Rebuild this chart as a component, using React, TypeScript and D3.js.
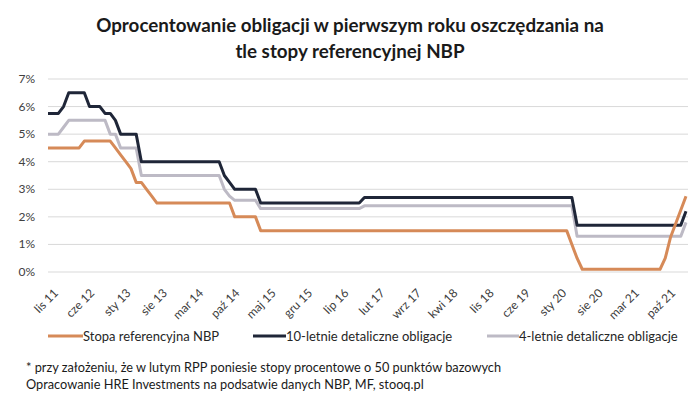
import React from 'react';
import * as d3 from 'd3';

// monthly values, lis 2011 .. lut 2022
const stopaRef = [
  4.5, 4.5, 4.5, 4.5, 4.5, 4.5, 4.5, 4.75, 4.75, 4.75, 4.75, 4.75,
  4.75, 4.5, 4.25, 4.0, 3.75, 3.25, 3.25, 3.0, 2.75, 2.5, 2.5, 2.5,
  2.5, 2.5, 2.5, 2.5, 2.5, 2.5, 2.5, 2.5, 2.5, 2.5, 2.5, 2.5,
  2.0, 2.0, 2.0, 2.0, 2.0, 1.5, 1.5, 1.5, 1.5, 1.5, 1.5, 1.5,
  1.5, 1.5, 1.5, 1.5, 1.5, 1.5, 1.5, 1.5, 1.5, 1.5, 1.5, 1.5,
  1.5, 1.5, 1.5, 1.5, 1.5, 1.5, 1.5, 1.5, 1.5, 1.5, 1.5, 1.5,
  1.5, 1.5, 1.5, 1.5, 1.5, 1.5, 1.5, 1.5, 1.5, 1.5, 1.5, 1.5,
  1.5, 1.5, 1.5, 1.5, 1.5, 1.5, 1.5, 1.5, 1.5, 1.5, 1.5, 1.5,
  1.5, 1.5, 1.5, 1.5, 1.5, 1.0, 0.5, 0.1, 0.1, 0.1, 0.1, 0.1,
  0.1, 0.1, 0.1, 0.1, 0.1, 0.1, 0.1, 0.1, 0.1, 0.1, 0.1, 0.5,
  1.25, 1.75, 2.25, 2.75,
];

const obl10 = [
  5.75, 5.75, 5.75, 6.0, 6.5, 6.5, 6.5, 6.5, 6.0, 6.0, 6.0, 5.75,
  5.75, 5.5, 5.0, 5.0, 5.0, 5.0, 4.0, 4.0, 4.0, 4.0, 4.0, 4.0,
  4.0, 4.0, 4.0, 4.0, 4.0, 4.0, 4.0, 4.0, 4.0, 4.0, 3.5, 3.25,
  3.0, 3.0, 3.0, 3.0, 3.0, 2.5, 2.5, 2.5, 2.5, 2.5, 2.5, 2.5,
  2.5, 2.5, 2.5, 2.5, 2.5, 2.5, 2.5, 2.5, 2.5, 2.5, 2.5, 2.5,
  2.5, 2.7, 2.7, 2.7, 2.7, 2.7, 2.7, 2.7, 2.7, 2.7, 2.7, 2.7,
  2.7, 2.7, 2.7, 2.7, 2.7, 2.7, 2.7, 2.7, 2.7, 2.7, 2.7, 2.7,
  2.7, 2.7, 2.7, 2.7, 2.7, 2.7, 2.7, 2.7, 2.7, 2.7, 2.7, 2.7,
  2.7, 2.7, 2.7, 2.7, 2.7, 2.7, 1.7, 1.7, 1.7, 1.7, 1.7, 1.7,
  1.7, 1.7, 1.7, 1.7, 1.7, 1.7, 1.7, 1.7, 1.7, 1.7, 1.7, 1.7,
  1.7, 1.7, 1.7, 2.2,
];

const obl4 = [
  5.0, 5.0, 5.0, 5.25, 5.5, 5.5, 5.5, 5.5, 5.5, 5.5, 5.5, 5.5,
  5.0, 5.0, 4.5, 4.5, 4.5, 4.5, 3.5, 3.5, 3.5, 3.5, 3.5, 3.5,
  3.5, 3.5, 3.5, 3.5, 3.5, 3.5, 3.5, 3.5, 3.5, 3.5, 3.0, 2.75,
  2.6, 2.6, 2.6, 2.6, 2.6, 2.3, 2.3, 2.3, 2.3, 2.3, 2.3, 2.3,
  2.3, 2.3, 2.3, 2.3, 2.3, 2.3, 2.3, 2.3, 2.3, 2.3, 2.3, 2.3,
  2.3, 2.4, 2.4, 2.4, 2.4, 2.4, 2.4, 2.4, 2.4, 2.4, 2.4, 2.4,
  2.4, 2.4, 2.4, 2.4, 2.4, 2.4, 2.4, 2.4, 2.4, 2.4, 2.4, 2.4,
  2.4, 2.4, 2.4, 2.4, 2.4, 2.4, 2.4, 2.4, 2.4, 2.4, 2.4, 2.4,
  2.4, 2.4, 2.4, 2.4, 2.4, 2.4, 1.3, 1.3, 1.3, 1.3, 1.3, 1.3,
  1.3, 1.3, 1.3, 1.3, 1.3, 1.3, 1.3, 1.3, 1.3, 1.3, 1.3, 1.3,
  1.3, 1.3, 1.3, 1.8,
];

// one label every 7 months, starting at lis 11
const xLabels = [
  'lis 11', 'cze 12', 'sty 13', 'sie 13', 'mar 14', 'paź 14', 'maj 15', 'gru 15', 'lip 16',
  'lut 17', 'wrz 17', 'kwi 18', 'lis 18', 'cze 19', 'sty 20', 'sie 20', 'mar 21', 'paź 21',
];
const yTicks = [0, 1, 2, 3, 4, 5, 6, 7];

const series = [
  { name: 'Stopa referencyjna NBP', values: stopaRef, color: '#d68a58' },
  { name: '10-letnie detaliczne obligacje', values: obl10, color: '#1f2638' },
  { name: '4-letnie detaliczne obligacje', values: obl4, color: '#bdbac5' },
];

const font = "Lato, 'Open Sans', sans-serif";

const App = () => {
  const width = 700;
  const height = 406;
  const left = 48, right = 686, top = 79, bottom = 272;

  const x = d3.scaleLinear().domain([0, stopaRef.length - 1]).range([left, right]);
  const y = d3.scaleLinear().domain([0, 7]).range([bottom, top]);

  const line = d3.line<number>()
    .x((d, i) => x(i))
    .y(d => y(d));

  const legendPos = [
    { lx: 48, tx: 83 },
    { lx: 253, tx: 286 },
    { lx: 487, tx: 519 },
  ];

  return (
    <svg width={width} height={height} style={{ position: 'absolute', left: 0, top: 0, background: '#fff' }}
      fontFamily={font}>
      <text x={350} y={32} textAnchor="middle" fontSize={18.8} fontWeight="bold" fill="#1a1a1a">
        Oprocentowanie obligacji w pierwszym roku oszczędzania na
      </text>
      <text x={350} y={58} textAnchor="middle" fontSize={18.8} fontWeight="bold" fill="#1a1a1a">
        tle stopy referencyjnej NBP
      </text>

      {yTicks.map(t => (
        <g key={t}>
          <line x1={left} x2={688} y1={y(t)} y2={y(t)} stroke="#d9d9d9" strokeWidth={1} />
          <text x={35} y={y(t) + 4} textAnchor="end" fontSize={12} fill="#404040">{t}%</text>
        </g>
      ))}

      {xLabels.map((lab, i) => {
        const px = x(i * 7) + 5;
        const py = 288;
        return (
          <text key={lab} x={px} y={py} textAnchor="end" fontSize={12} fill="#404040"
            transform={`rotate(-45, ${px}, ${py})`} dy="0.7em">
            {lab}
          </text>
        );
      })}

      {[series[2], series[1], series[0]].map(s => (
        <path key={s.name} d={line(s.values) || ''} fill="none" stroke={s.color}
          strokeWidth={3} strokeLinejoin="round" />
      ))}

      {series.map((s, i) => (
        <g key={s.name}>
          <line x1={legendPos[i].lx} x2={legendPos[i].tx} y1={336} y2={336} stroke={s.color} strokeWidth={3} />
          <text x={legendPos[i].tx} y={340.5} fontSize={13} fill="#262626">{s.name}</text>
        </g>
      ))}

      <text x={26} y={372} fontSize={12.75} fill="#1a1a1a">
        * przy założeniu, że w lutym RPP poniesie stopy procentowe o 50 punktów bazowych
      </text>
      <text x={26} y={389} fontSize={12.75} fill="#1a1a1a">
        Opracowanie HRE Investments na podsatwie danych NBP, MF, stooq.pl
      </text>
    </svg>
  );
};

export default App;
